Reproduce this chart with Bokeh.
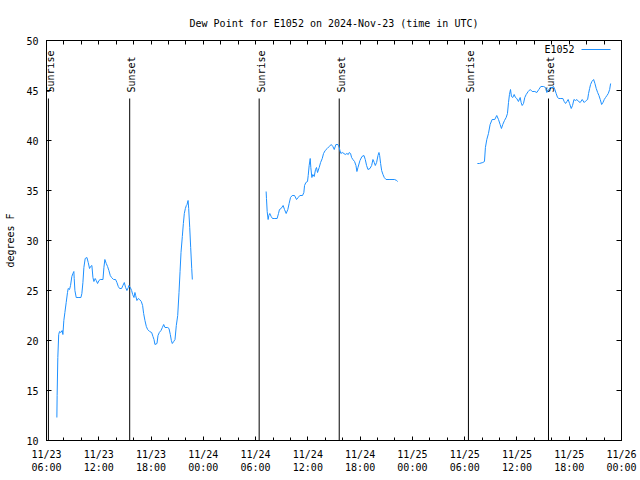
import numpy as np
from bokeh.plotting import figure
from bokeh.models import (Range1d, FixedTicker, DatetimeTickFormatter, LinearAxis,
                          Label, BoxAnnotation)
from bokeh.core.properties import value
from bokeh.embed import file_html
from bokeh.resources import INLINE

# ---- data (hours since 2024-11-23 00:00 UTC, dew point in degrees F) ----
BASE_MS = np.datetime64("2024-11-23T00:00:00", "ms").astype(np.int64).item()
HOUR_MS = 3600000.0

seg1_hours = [7.19, 7.22, 7.30, 7.40, 7.50, 7.65, 7.80, 7.88, 7.99, 8.11, 8.26, 8.41, 8.49, 8.64,
              8.76, 8.91, 9.03, 9.14, 9.18, 9.26, 9.41, 9.72, 9.95, 10.06, 10.18, 10.29, 10.44,
              10.64, 10.79, 10.94, 11.06, 11.21, 11.33, 11.44, 11.59, 11.71, 11.86, 12.02, 12.17,
              12.48, 12.59, 12.70, 12.86, 13.01, 13.16, 13.32, 13.47, 13.70, 13.93, 14.08, 14.24,
              14.39, 14.62, 14.77, 14.93, 15.08, 15.23, 15.39, 15.46, 15.62, 15.77, 15.89, 16.04,
              16.15, 16.23, 16.38, 16.54, 16.69, 16.88, 17.03, 17.15, 17.30, 17.46, 17.61, 17.84,
              18.07, 18.22, 18.34, 18.45, 18.68, 18.80, 18.95, 19.14, 19.30, 19.45, 19.60, 19.91,
              20.06, 20.21, 20.33, 20.44, 20.60, 20.75, 20.90, 21.06, 21.21, 21.33, 21.44, 21.59,
              21.71, 21.82, 21.94, 22.05, 22.13, 22.25, 22.32, 22.44, 22.55, 22.67, 22.74]
seg1_dewpt = [12.3, 14.5, 18.3, 20.6, 20.9, 20.8, 21.0, 20.6, 22.0, 22.8, 23.8, 24.8, 25.2, 25.1,
              25.5, 26.4, 26.7, 26.9, 26.2, 25.0, 24.3, 24.3, 24.3, 24.7, 25.8, 27.3, 28.2,
              28.3, 27.8, 27.2, 27.4, 27.5, 26.3, 25.9, 26.2, 26.0, 25.7, 26.0, 26.1,
              26.1, 27.3, 28.1, 27.7, 27.4, 27.0, 26.5, 26.3, 26.1, 26.1, 25.8, 25.4,
              25.2, 25.2, 25.5, 25.8, 25.3, 25.0, 25.3, 25.5, 25.3, 25.0, 24.6, 24.3,
              24.8, 24.5, 24.0, 24.2, 24.1, 23.9, 23.5, 22.7, 22.0, 21.4, 21.1, 20.9,
              20.8, 20.4, 20.1, 19.6, 19.7, 20.5, 20.8, 21.0, 21.3, 21.6, 21.3, 21.3,
              21.2, 20.6, 20.0, 19.7, 19.9, 20.1, 21.5, 22.5, 24.8, 26.9, 28.8, 30.4,
              31.7, 32.7, 33.2, 33.5, 33.6, 34.0, 33.2, 31.3, 29.3, 27.2, 26.1]

seg2_hours = [31.21, 31.25, 31.33, 31.44, 31.52, 31.63, 31.79, 31.94, 32.21, 32.47, 32.63, 32.74,
              32.93, 33.16, 33.32, 33.51, 33.70, 33.85, 34.01, 34.20, 34.47, 34.70, 34.89, 35.08,
              35.39, 35.54, 35.62, 35.77, 35.96, 36.04, 36.15, 36.27, 36.34, 36.46, 36.57, 36.73,
              36.88, 36.99, 37.11, 37.30, 37.46, 37.65, 37.80, 37.99, 38.22, 38.45, 38.68, 38.87,
              39.03, 39.22, 39.45, 39.60, 39.68, 39.79, 39.95, 40.14, 40.29, 40.48, 40.64, 40.75,
              40.90, 41.02, 41.17, 41.36, 41.52, 41.63, 41.75, 41.98, 42.21, 42.44, 42.59, 42.74,
              42.90, 43.13, 43.32, 43.47, 43.62, 43.74, 43.89, 44.05, 44.16, 44.24, 44.35, 44.47,
              44.62, 44.77, 44.97, 45.42, 45.96, 46.19, 46.31]
seg2_dewpt = [34.9, 34.2, 32.9, 32.1, 32.5, 32.7, 32.4, 32.2, 32.2, 32.2, 32.7, 33.1,
              33.2, 33.5, 33.1, 32.7, 33.1, 33.7, 34.3, 34.5, 34.5, 34.1, 34.3, 34.5,
              34.5, 34.8, 35.5, 35.8, 35.9, 36.5, 37.5, 38.2, 37.3, 36.3, 36.6, 36.4,
              37.1, 37.3, 36.8, 37.3, 37.8, 38.2, 38.7, 39.0, 39.2, 39.4, 39.6, 39.4,
              39.1, 39.6, 39.6, 39.3, 39.0, 38.7, 38.8, 38.7, 38.6, 38.7, 38.6, 38.8,
              38.7, 38.3, 38.1, 37.9, 37.5, 36.9, 37.3, 38.0, 38.4, 38.5, 38.1, 37.5,
              37.1, 37.2, 37.5, 38.1, 37.8, 37.5, 37.8, 38.5, 38.8, 38.5, 37.7, 37.0,
              36.6, 36.3, 36.1, 36.1, 36.1, 36.0, 35.9]

seg3_hours = [55.46, 55.69, 56.08, 56.27, 56.38, 56.54, 56.73, 56.92, 57.15, 57.45, 57.68, 57.88,
              58.07, 58.22, 58.37, 58.57, 58.76, 58.91, 59.03, 59.14, 59.26, 59.37, 59.52, 59.68,
              59.83, 59.98, 60.17, 60.37, 60.48, 60.60, 60.75, 60.90, 61.06, 61.29, 61.52, 61.75,
              62.05, 62.28, 62.51, 62.74, 63.05, 63.28, 63.43, 63.59, 63.81, 64.04, 64.20, 64.35,
              64.50, 64.66, 64.81, 64.96, 65.27, 65.42, 65.58, 65.73, 65.88, 66.04, 66.23, 66.38,
              66.54, 66.73, 66.88, 67.07, 67.26, 67.49, 67.72, 67.95, 68.11, 68.22, 68.34, 68.45,
              68.60, 68.80, 68.95, 69.10, 69.26, 69.41, 69.56, 69.72, 69.87, 70.02, 70.17, 70.33,
              70.48, 70.64, 70.75]
seg3_dewpt = [37.7, 37.7, 37.8, 37.9, 39.3, 40.1, 40.7, 41.6, 42.1, 42.1, 42.5, 42.1,
              41.6, 41.2, 41.6, 42.0, 42.3, 42.7, 43.8, 44.6, 45.1, 44.4, 44.3, 44.6,
              44.3, 44.2, 43.9, 44.3, 43.8, 43.5, 43.7, 44.3, 44.6, 44.9, 45.1, 44.9,
              44.9, 44.8, 45.1, 45.4, 45.4, 45.3, 44.8, 45.0, 45.3, 45.3, 45.4, 45.1,
              44.7, 44.3, 44.2, 44.2, 44.2, 43.9, 43.7, 43.9, 44.1, 43.7, 43.2, 43.5,
              44.1, 44.0, 44.1, 43.9, 43.8, 44.1, 43.8, 44.0, 44.1, 44.7, 45.2, 45.6,
              45.9, 46.1, 45.7, 45.2, 44.8, 44.5, 44.1, 43.6, 43.8, 44.1, 44.3, 44.5,
              44.7, 45.1, 45.7]

sunrise_hours = [6.22, 30.41, 54.43]
sunset_hours = [15.55, 39.60, 63.62]

y_ticks = [10, 15, 20, 25, 30, 35, 40, 45, 50]
series_name = "E1052"
title_text = "Dew Point for E1052 on 2024-Nov-23 (time in UTC)"


def to_ms(hours):
    return [BASE_MS + h * HOUR_MS for h in hours]


nan = float("nan")
xs = to_ms(seg1_hours) + [nan] + to_ms(seg2_hours) + [nan] + to_ms(seg3_hours)
ys = seg1_dewpt + [nan] + seg2_dewpt + [nan] + seg3_dewpt

FONT = "DejaVu Sans Mono"
FS = "10px"
LINE_COLOR = "#1e90ff"

p = figure(width=640, height=480, output_backend="svg", toolbar_location=None,
           x_axis_type="datetime",
           x_range=Range1d(BASE_MS + 6 * HOUR_MS, BASE_MS + 72 * HOUR_MS),
           y_range=Range1d(10, 50),
           min_border_left=46, min_border_right=19, min_border_top=40, min_border_bottom=40)
p.grid.visible = False
p.outline_line_color = "black"
p.outline_line_width = 1
p.background_fill_color = "white"
p.border_fill_color = "white"

p.title.text = title_text
p.title.align = "center"
p.title.text_font = FONT
p.title.text_font_size = FS
p.title.text_font_style = "normal"
p.title.text_color = "black"
p.title.standoff = 23

major = to_ms(list(range(6, 73, 6)))
minor = to_ms(list(range(6, 73, 2)))
fmt = "%m/%d\n%H:%M"
xfmt = DatetimeTickFormatter(microseconds=fmt, milliseconds=fmt, seconds=fmt, minsec=fmt,
                             minutes=fmt, hourmin=fmt, hours=fmt, days=fmt, months=fmt, years=fmt)


def style_axis(ax):
    ax.axis_line_color = "black"
    ax.major_tick_line_color = "black"
    ax.minor_tick_line_color = "black"
    ax.major_tick_out = 0
    ax.minor_tick_out = 0
    ax.major_label_text_font = FONT
    ax.major_label_text_font_size = FS
    ax.major_label_text_color = "black"
    ax.axis_label_text_font = FONT
    ax.axis_label_text_font_size = FS
    ax.axis_label_text_font_style = "normal"
    ax.axis_label_text_color = "black"


xa = p.xaxis[0]
xa.ticker = FixedTicker(ticks=major, minor_ticks=minor)
xa.formatter = xfmt
style_axis(xa)
xa.major_tick_in = 4
xa.minor_tick_in = 3
xa.major_label_standoff = 8

ya = p.yaxis[0]
ya.ticker = FixedTicker(ticks=y_ticks, minor_ticks=[])
style_axis(ya)
ya.major_tick_in = 5
ya.minor_tick_in = 0
ya.major_label_standoff = 8
ya.axis_label = "degrees F"
ya.axis_label_standoff = 7

# mirrored tick marks (minor ticks only, so no labels are drawn)
top = LinearAxis(ticker=FixedTicker(ticks=[], minor_ticks=minor))
style_axis(top)
top.minor_tick_in = 4
p.add_layout(top, "above")

right = LinearAxis(ticker=FixedTicker(ticks=[], minor_ticks=y_ticks))
style_axis(right)
right.minor_tick_in = 5
p.add_layout(right, "right")

# sunrise / sunset markers
sun_x = to_ms(sunrise_hours) + to_ms(sunset_hours)
sun_lbl = ["Sunrise"] * len(sunrise_hours) + ["Sunset"] * len(sunset_hours)
p.segment(x0=sun_x, x1=sun_x, y0=10, y1=44.2, line_color="black", line_width=1)
p.text(x=sun_x, y=44.8, text=sun_lbl, angle=np.pi / 2, text_align="left",
       text_baseline="middle", text_font=value(FONT), text_font_size=FS,
       text_color="black", x_offset=2)

p.line(xs, ys, line_color=LINE_COLOR, line_width=1)

# key: name on the left, line sample on the right (top-right corner of the frame)
p.add_layout(Label(x=528, y=391, x_units="screen", y_units="screen", text=series_name,
                   text_align="right", text_baseline="middle", text_font=FONT,
                   text_font_size=FS, text_color="black"))
p.add_layout(BoxAnnotation(left=535, right=564, bottom=390.5, top=391.5,
                           left_units="screen", right_units="screen",
                           bottom_units="screen", top_units="screen",
                           fill_color=LINE_COLOR, fill_alpha=1, line_color=None))

open("out.html", "w").write(file_html(p, INLINE))
